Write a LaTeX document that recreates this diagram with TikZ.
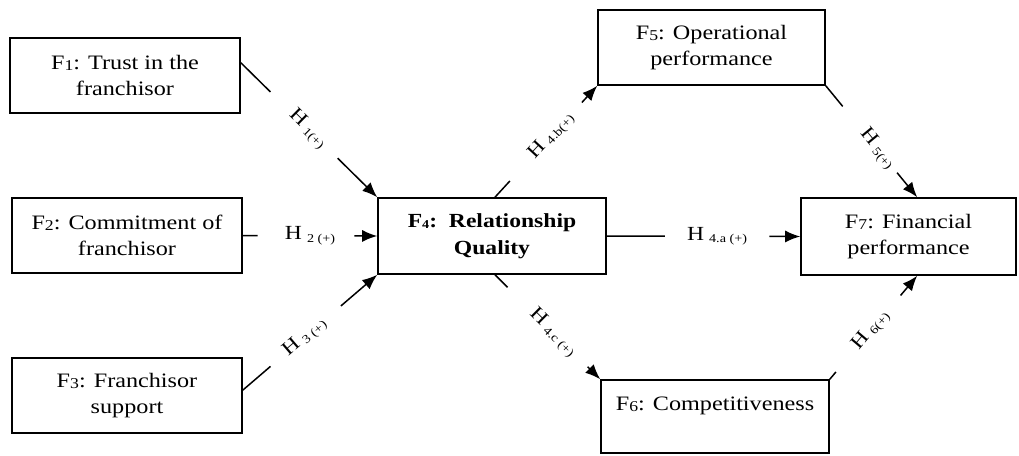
\documentclass[tikz,border=0pt]{standalone}
\usepackage{fontspec}
\setmainfont[FakeStretch=1.18]{Liberation Serif}
\usetikzlibrary{calc,arrows.meta}
\tikzset{
  box/.style={draw, line width=1.6pt, align=center, inner sep=0pt,
    font=\fontsize{20.5}{26.5}\selectfont},
  conn/.style={line width=1.5pt},
  arr/.style={line width=1.5pt, -{Latex[length=15pt,width=12pt]}},
  lab/.style={sloped, inner sep=0pt, font=\fontsize{19.5}{19.5}\selectfont},
  hlab/.style={inner sep=0pt, font=\fontsize{20}{20}\selectfont}
}
\newcommand\Hsub[1]{H\kern5pt\raisebox{-2.5pt}{\fontsize{12}{12}\selectfont #1}}
\newcommand\Fs[1]{\raisebox{-1.5pt}{\fontsize{15}{15}\selectfont #1}}
\begin{document}
\begin{tikzpicture}[x=1pt,y=-1pt]
\useasboundingbox (0,0) rectangle (1019,455);
\node[box, minimum width=230pt, minimum height=75pt] (F1) at (125,75.5) {F\Fs{1}: Trust in the\\franchisor};
\node[box, minimum width=230pt, minimum height=75pt] (F2) at (127,235.5) {F\Fs{2}: Commitment of\\franchisor};
\node[box, minimum width=230pt, minimum height=75pt] (F3) at (127,395.5) {F\Fs{3}: Franchisor\\support};
\node[box, minimum width=228pt, minimum height=76pt, font=\fontsize{20}{27}\selectfont\bfseries] (F4) at (492,236) {F\raisebox{-1pt}{\fontsize{12}{12}\selectfont 4}:\ \ Relationship\\Quality};
\node[box, minimum width=227pt, minimum height=75pt] (F5) at (711.5,47.5) {F\Fs{5}: Operational\\performance};
\node[box, minimum width=228pt, minimum height=73pt] (F6) at (715,416.5) {F\Fs{6}: Competitiveness\\\mbox{}};
\node[box, minimum width=215pt, minimum height=77pt] (F7) at (908.5,236.5) {F\Fs{7}: Financial\\performance};

\coordinate (a1) at ($(F1.north east)!0.333!(F1.south east)$);
\coordinate (a3) at ($(F3.north east)!0.43!(F3.south east)$);
\coordinate (t4) at ($(F4.north west)!0.513!(F4.north east)$);
\coordinate (b4) at ($(F4.south west)!0.513!(F4.south east)$);
\coordinate (t7) at ($(F7.north west)!0.54!(F7.north east)$);
\coordinate (b7) at ($(F7.south west)!0.54!(F7.south east)$);

% H1
\draw[conn] (a1) -- ($(a1)!0.217!(F4.north west)$);
\draw[arr] ($(a1)!0.71!(F4.north west)$) -- (F4.north west);
\path (a1) -- (F4.north west) node[lab, pos=0.49] {\Hsub{1(+)}};
% H2
\draw[conn] (F2.east) -- ($(F2.east)!0.11!(F4.west)$);
\draw[arr] ($(F2.east)!0.83!(F4.west)$) -- (F4.west);
\path (F2.east) -- (F4.west) node[hlab, pos=0.5] {\Hsub{2 (+)}};
% H3
\draw[conn] (a3) -- ($(a3)!0.206!(F4.south west)$);
\draw[arr] ($(a3)!0.73!(F4.south west)$) -- (F4.south west);
\path (a3) -- (F4.south west) node[lab, pos=0.46] {\Hsub{3 (+)}};
% H4b
\draw[conn] (t4) -- ($(t4)!0.146!(F5.south west)$);
\draw[arr] ($(t4)!0.85!(F5.south west)$) -- (F5.south west);
\path (t4) -- (F5.south west) node[lab, pos=0.55] {\Hsub{4.b(+)}};
% H4a
\draw[conn] (F4.east) -- ($(F4.east)!0.30!(F7.west)$);
\draw[arr] ($(F4.east)!0.84!(F7.west)$) -- (F7.west);
\path (F4.east) -- (F7.west) node[hlab, pos=0.57] {\Hsub{4.a (+)}};
% H4c
\draw[conn] (b4) -- ($(b4)!0.12!(F6.north west)$);
\draw[arr] ($(b4)!0.88!(F6.north west)$) -- (F6.north west);
\path (b4) -- (F6.north west) node[lab, pos=0.55] {\Hsub{4.c (+)}};
% H5
\draw[conn] (F5.south east) -- ($(F5.south east)!0.185!(t7)$);
\draw[arr] ($(F5.south east)!0.78!(t7)$) -- (t7);
\path (F5.south east) -- (t7) node[lab, pos=0.565] {\Hsub{5(+)}};
% H6
\draw[conn] (F6.north east) -- ($(F6.north east)!0.07!(b7)$);
\draw[arr] ($(F6.north east)!0.81!(b7)$) -- (b7);
\path (F6.north east) -- (b7) node[lab, pos=0.47] {\Hsub{6(+)}};
\end{tikzpicture}
\end{document}
